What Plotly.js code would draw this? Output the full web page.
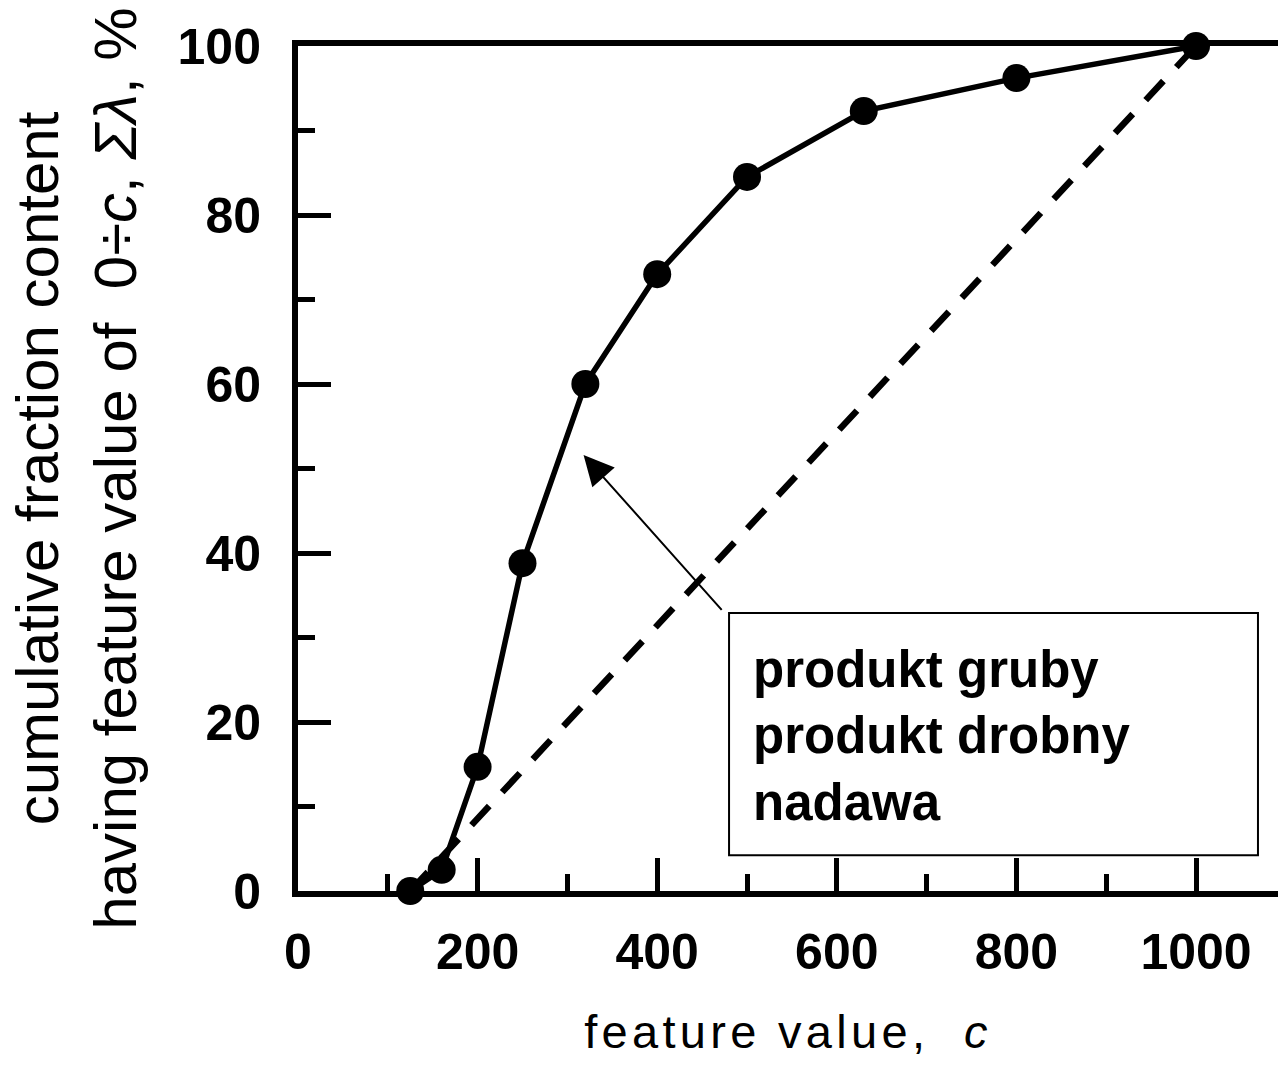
<!DOCTYPE html>
<html>
<head>
<meta charset="utf-8">
<script src="https://cdn.plot.ly/plotly-3.0.1.min.js"></script>
<style>
html,body{margin:0;padding:0;background:#fff;}
#chart{width:1278px;height:1066px;}
.xtitle{letter-spacing:4.3px;}
</style>
</head>
<body>
<div id="chart"></div>
<script>
// Data
var featureValues = [125, 160, 200, 250, 320, 400, 500, 630, 800, 1000];
var cumulativeContent = [0, 2.5, 14.7, 38.8, 60, 73, 84.5, 92.3, 96.2, 100];
var diagonalX = [125, 1000];
var diagonalY = [0, 100];
var legendLines = ["produkt gruby", "produkt drobny", "nadawa"];
var xTickVals = [0, 200, 400, 600, 800, 1000];
var yTickVals = [0, 20, 40, 60, 80, 100];

var FONT = "Liberation Sans, Arial, Helvetica, sans-serif";

var traces = [
  {
    x: featureValues, y: cumulativeContent,
    type: "scatter", mode: "lines+markers",
    name: "produkt gruby",
    line: {color: "#000", width: 5.5},
    marker: {color: "#000", size: 28},
    cliponaxis: false,
    showlegend: false
  },
  {
    x: diagonalX, y: diagonalY,
    type: "scatter", mode: "lines",
    name: "nadawa",
    line: {color: "#000", width: 6.5, dash: "26px,19px"},
    cliponaxis: false,
    showlegend: false
  }
];

var layout = {
  width: 1278, height: 1066,
  margin: {l: 298, r: 0, t: 46, b: 175},
  paper_bgcolor: "#fff", plot_bgcolor: "#fff",
  font: {family: FONT, color: "#000"},
  showlegend: false,
  xaxis: {
    range: [0, 1091.3],
    tickvals: xTickVals,
    ticktext: xTickVals.map(String),
    ticks: "inside", ticklen: 33, tickwidth: 5, tickcolor: "#000",
    showline: true, linewidth: 6, linecolor: "#000", mirror: true,
    showgrid: false, zeroline: false,
    minor: {dtick: 100, tick0: 0, ticks: "inside", ticklen: 17, tickwidth: 5, tickcolor: "#000", showgrid: false},
    tickfont: {family: FONT, size: 50, weight: "bold"},
    ticklabelstandoff: 12,
    automargin: false,
    title: {text: "feature value,&nbsp; <i>c</i>", font: {family: FONT, size: 47}, standoff: 38}
  },
  yaxis: {
    range: [0, 100],
    tickvals: yTickVals,
    ticktext: yTickVals.map(String),
    ticks: "inside", ticklen: 33, tickwidth: 5, tickcolor: "#000",
    showline: true, linewidth: 6, linecolor: "#000", mirror: false,
    showgrid: false, zeroline: false,
    minor: {dtick: 10, tick0: 0, ticks: "inside", ticklen: 17, tickwidth: 5, tickcolor: "#000", showgrid: false},
    tickfont: {family: FONT, size: 50, weight: "bold"},
    ticklabelstandoff: 21,
    automargin: false,
    title: {text: "cumulative fraction content<br>having feature value of &nbsp;0÷<i>c</i>, <i>Σλ</i>, %", font: {family: FONT, size: 60}, standoff: 24}
  },
  shapes: [
    {type: "rect", xref: "x", yref: "y", x0: 480, x1: 1069, y0: 4.24, y1: 32.9,
     line: {color: "#000", width: 2}, fillcolor: "#fff", layer: "above"}
  ],
  annotations: [
    {xref: "x", yref: "y", x: 504, y: 18.4, xanchor: "left", yanchor: "middle", align: "left",
     text: "<b>" + legendLines.join("<br>") + "</b>", showarrow: false,
     font: {family: FONT, size: 51, color: "#000"}},
    {xref: "x", yref: "y", x: 318, y: 51.6, axref: "x", ayref: "y", ax: 473.3, ay: 33.1,
     text: "", showarrow: true, arrowhead: 2, arrowsize: 3, arrowwidth: 2, arrowcolor: "#000"}
  ]
};

Plotly.newPlot("chart", traces, layout, {displayModeBar: false, staticPlot: true});
</script>
</body>
</html>
